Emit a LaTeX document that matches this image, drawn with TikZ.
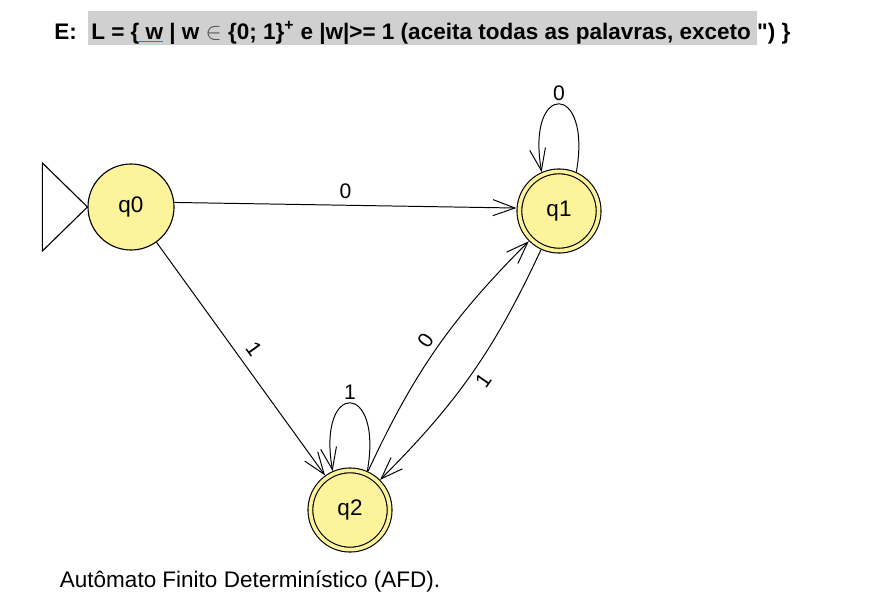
\documentclass[tikz,border=0pt]{standalone}
\usepackage{fontspec}
\setmainfont{Liberation Sans}
\usetikzlibrary{arrows.meta,positioning}
\definecolor{statefill}{HTML}{FCF39B}
\definecolor{markgray}{HTML}{D0D0D0}
\definecolor{spellblue}{HTML}{3F6FD6}

\begin{document}
\begin{tikzpicture}[x=.025cm,y=-.025cm,
    state/.style={circle,draw=black,line width=.8pt,fill=statefill,
      minimum size=2.15cm,inner sep=0pt,font=\fontsize{16}{18}\selectfont},
    accept/.style={state,double=statefill,double distance=2.6pt,
      minimum size=1.98cm,outer sep=2.2pt},
    trans/.style={-{Straight Barb[length=5.5mm,width=4mm]},line width=.7pt},
    tlabel/.style={font=\fontsize{15}{17}\selectfont,inner sep=4pt},
    headfont/.style={font=\fontsize{16}{19}\selectfont\bfseries}]
    \useasboundingbox (0,0) rectangle (875,598);
    % title line
    \fill[markgray] (88,11) rectangle (757,45);
    \node[anchor=base west,inner sep=0pt,headfont] (ehead) at (54,39) {E:};
    \node[anchor=base west,inner sep=0pt,headfont]
      (lang) at (91,39) {L = \{{\color{spellblue}\underline{\color{black}\ w}} | w
      \textcolor{black!70}{$\in$} \{0; 1\}\textsuperscript{+} e |w|>= 1
      (aceita todas as palavras, exceto};
    \node[anchor=base west,inner sep=0pt,headfont]
      (close) at ([xshift=4pt]lang.base east) {\textquotedbl) \}};

    % states
    \node[state] (q0) at (131,207) {q0};
    \node[accept] (q1) at (559,211) {q1};
    \node[accept] (q2) at (350,510) {q2};
    \draw[line width=.8pt] (q0.west) -- ++(-45,-44) -- ++(0,88) -- cycle;

    % transitions
    \draw[trans] (q0.6) -- node[tlabel,above] (l01) {0} (q1.176);
    \draw[trans] (q0) -- node[tlabel,above,sloped,inner sep=6pt] (l02) {1} (q2);
    \draw[trans] (q2) to[bend left=10] node[tlabel,above,sloped] (l21) {0} (q1);
    \draw[trans] (q1) to[bend left=10] node[tlabel,below,sloped] (l12) {1} (q2);
    \draw[trans] (q1.66) .. controls +(80:2.3cm) and +(100:2.3cm) ..
      node[tlabel,above,inner sep=2pt] (l11) {0} (q1.114);
    \draw[trans] (q2.66) .. controls +(80:2.3cm) and +(100:2.3cm) ..
      node[tlabel,above,inner sep=2pt] (l22) {1} (q2.114);

    % caption
    \node[anchor=base west,font=\fontsize{16}{19}\selectfont]
      (caption) at (55,587) {Autômato Finito Determinístico (AFD).};
  \end{tikzpicture}
\end{document}
